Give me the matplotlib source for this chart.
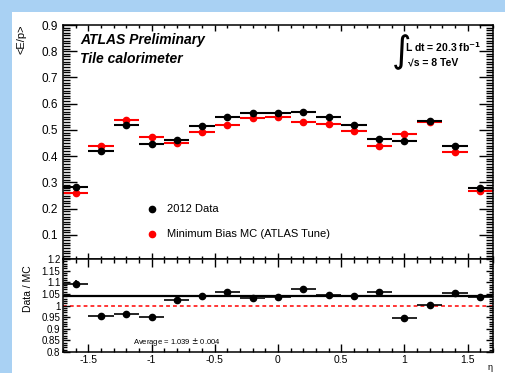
import matplotlib.pyplot as plt
from matplotlib.patches import Rectangle
from matplotlib.ticker import MultipleLocator

plt.rcParams['font.family'] = ['Liberation Sans', 'DejaVu Sans']

# eta bin centres and half widths
eta = [-1.6, -1.4, -1.2, -1.0, -0.8, -0.6, -0.4, -0.2, 0.0,
       0.2, 0.4, 0.6, 0.8, 1.0, 1.2, 1.4, 1.6]
half_width = [0.1] * 17

# <E/p> in data and MC
data_ep = [0.284, 0.421, 0.518, 0.448, 0.462, 0.515, 0.548, 0.566, 0.564,
           0.569, 0.551, 0.519, 0.467, 0.457, 0.533, 0.440, 0.278]
mc_ep = [0.259, 0.440, 0.539, 0.472, 0.449, 0.494, 0.518, 0.546, 0.548,
         0.529, 0.524, 0.497, 0.440, 0.484, 0.532, 0.417, 0.268]

# Data / MC ratio and its uncertainty
ratio = [1.093, 0.955, 0.962, 0.951, 1.023, 1.043, 1.058, 1.034, 1.036,
         1.072, 1.046, 1.043, 1.058, 0.948, 1.003, 1.053, 1.036]
ratio_err = [0.018, 0.004, 0.004, 0.004, 0.004, 0.004, 0.004, 0.004, 0.004,
             0.004, 0.004, 0.004, 0.004, 0.004, 0.006, 0.005, 0.015]
average = 1.039

W, H = 506, 373
fig = plt.figure(figsize=(W / 100, H / 100), dpi=100)
fig.patch.set_facecolor('#a9d1f3')
fig.add_artist(Rectangle((12 / W, 0), 1, (H - 12) / H, transform=fig.transFigure,
                         facecolor='white', edgecolor='none', zorder=0))

ax = fig.add_axes([63 / W, 1 - 259 / H, 430 / W, 234 / H])
axr = fig.add_axes([63 / W, 1 - 352 / H, 430 / W, 93 / H])

# upper panel
ax.errorbar(eta, data_ep, xerr=half_width, fmt='o', color='black', ms=4.5,
            elinewidth=1.5, capsize=0, zorder=3)
ax.errorbar(eta, mc_ep, xerr=half_width, fmt='o', color='red', ms=4.5,
            elinewidth=1.5, capsize=0, zorder=2)
ax.set_xlim(-1.7, 1.7)
ax.set_ylim(0.008, 0.9)
ax.yaxis.set_major_locator(MultipleLocator(0.1))
ax.yaxis.set_minor_locator(MultipleLocator(0.01))
ax.xaxis.set_major_locator(MultipleLocator(0.5))
ax.xaxis.set_minor_locator(MultipleLocator(0.1))
ax.tick_params(axis='both', which='both', direction='in', top=True, right=True,
               labelsize=8.5, width=1)
ax.tick_params(axis='y', which='major', length=10)
ax.tick_params(axis='y', which='minor', length=5)
ax.tick_params(axis='x', which='major', length=4.5)
ax.tick_params(axis='x', which='minor', length=2.3)
ax.tick_params(axis='x', labelbottom=False)
ax.set_yticks([0.1, 0.2, 0.3, 0.4, 0.5, 0.6, 0.7, 0.8, 0.9])
for s in ax.spines.values():
    s.set_linewidth(1.1)

ax.text(0.04, 0.935, 'ATLAS Preliminary', transform=ax.transAxes,
        fontsize=10, fontweight='bold', fontstyle='italic', va='center')
ax.text(0.04, 0.855, 'Tile calorimeter', transform=ax.transAxes,
        fontsize=10, fontweight='bold', fontstyle='italic', va='center')
ax.text(0.762, 0.885, r'$\int$', transform=ax.transAxes, fontsize=19,
        va='center', ha='left')
ax.text(0.795, 0.905, 'L dt = 20.3 fb$^{\\mathbf{-1}}$', transform=ax.transAxes,
        fontsize=7.5, fontweight='bold', va='center')
ax.text(0.803, 0.84, '√s = 8 TeV', transform=ax.transAxes,
        fontsize=7.5, fontweight='bold', va='center')

# legend
ax.plot([-1.0], [0.2], 'o', color='black', ms=4.5)
ax.text(-0.88, 0.2, '2012 Data', fontsize=8, va='center')
ax.plot([-1.0], [0.105], 'o', color='red', ms=4.5)
ax.text(-0.88, 0.105, 'Minimum Bias MC (ATLAS Tune)', fontsize=8, va='center')

fig.text(22 / W, 1 - 25 / H, '<E/p>', rotation=90, ha='center', va='top',
         fontsize=8)

# ratio panel
axr.axhline(average, color='black', lw=1.6, zorder=1)
axr.axhline(1.0, color='red', lw=1.1, ls=(0, (2.5, 2)), zorder=1)
axr.errorbar(eta, ratio, xerr=half_width, yerr=ratio_err, fmt='o',
             color='black', ms=4.5, elinewidth=1.2, capsize=0, zorder=3)
axr.set_xlim(-1.7, 1.7)
axr.set_ylim(0.8, 1.2)
axr.set_yticks([0.8, 0.85, 0.9, 0.95, 1.0, 1.05, 1.1, 1.15, 1.2])
axr.set_yticklabels(['0.8', '0.85', '0.9', '0.95', '1', '1.05', '1.1', '1.15', '1.2'])
axr.yaxis.set_minor_locator(MultipleLocator(0.01))
axr.xaxis.set_major_locator(MultipleLocator(0.5))
axr.xaxis.set_minor_locator(MultipleLocator(0.1))
axr.set_xticks([-1.5, -1, -0.5, 0, 0.5, 1, 1.5])
axr.set_xticklabels(['-1.5', '-1', '-0.5', '0', '0.5', '1', '1.5'])
axr.tick_params(axis='both', which='both', direction='in', top=True, right=True,
                labelsize=7.5, width=1)
axr.tick_params(axis='y', which='major', length=5, pad=2, labelsize=7)
axr.tick_params(axis='y', which='minor', length=3)
axr.tick_params(axis='x', which='major', length=5.5, pad=2)
axr.tick_params(axis='x', which='minor', length=3)
for s in axr.spines.values():
    s.set_linewidth(1.1)
axr.text(-1.15, 0.842, 'Average = 1.039 $\\pm$ 0.004', fontsize=5.5, va='center')

fig.text(28 / W, 1 - 289 / H, 'Data / MC', rotation=90, ha='center',
         va='center', fontsize=7.5)
fig.text(490 / W, 1 - 368 / H, 'η', ha='center', va='center', fontsize=6.5)

fig.savefig('out.png', dpi=100, facecolor=fig.get_facecolor())
